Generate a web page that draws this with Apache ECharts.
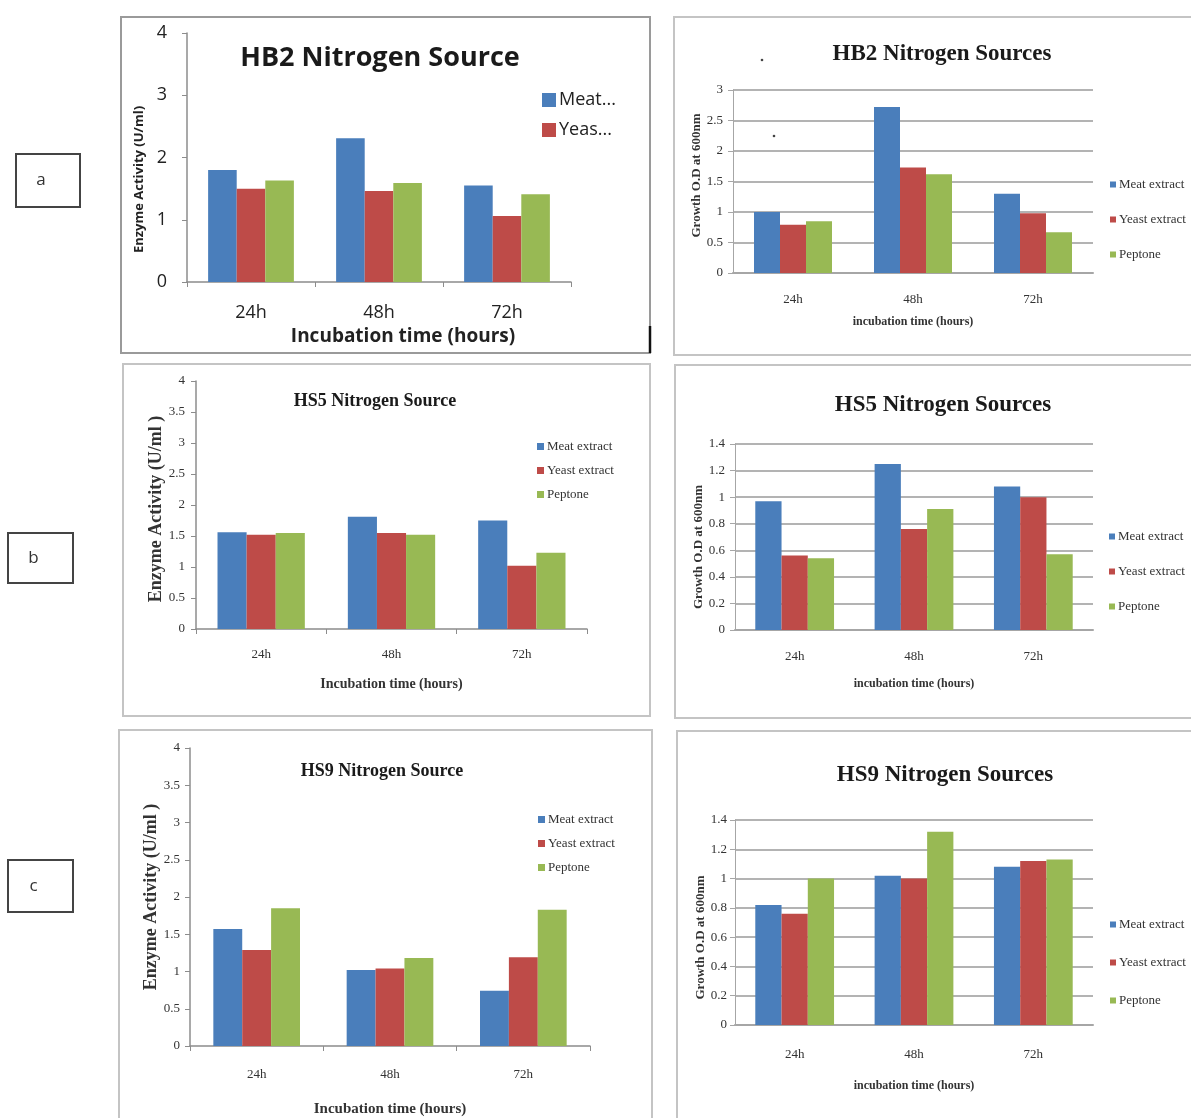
<!DOCTYPE html>
<html>
<head>
<meta charset="utf-8">
<script src="https://cdn.jsdelivr.net/npm/echarts@6/dist/echarts.min.js"></script>
<style>
  html, body { margin: 0; padding: 0; background: #fff; }
  #chart { width: 1191px; height: 1118px; }
</style>
</head>
<body>
<div id="chart"></div>
<script>
// categories and series names
const categories = ['24h', '48h', '72h'];
const sources = ['Meat extract', 'Yeast extract', 'Peptone'];

// HB2 (row a)
const hb2EnzymeMeat = [1.80, 2.31, 1.55];
const hb2EnzymeYeast = [1.50, 1.46, 1.06];
const hb2EnzymePeptone = [1.63, 1.59, 1.41];
const hb2GrowthMeat = [1.00, 2.72, 1.30];
const hb2GrowthYeast = [0.79, 1.73, 0.98];
const hb2GrowthPeptone = [0.85, 1.62, 0.67];

// HS5 (row b)
const hs5EnzymeMeat = [1.56, 1.81, 1.75];
const hs5EnzymeYeast = [1.52, 1.55, 1.02];
const hs5EnzymePeptone = [1.55, 1.52, 1.23];
const hs5GrowthMeat = [0.97, 1.25, 1.08];
const hs5GrowthYeast = [0.56, 0.76, 1.00];
const hs5GrowthPeptone = [0.54, 0.91, 0.57];

// HS9 (row c)
const hs9EnzymeMeat = [1.57, 1.02, 0.74];
const hs9EnzymeYeast = [1.29, 1.04, 1.19];
const hs9EnzymePeptone = [1.85, 1.18, 1.83];
const hs9GrowthMeat = [0.82, 1.02, 1.08];
const hs9GrowthYeast = [0.76, 1.00, 1.12];
const hs9GrowthPeptone = [1.00, 1.32, 1.13];

const COLORS = ['#4a7ebb', '#be4b48', '#98b954'];
const SANS = '"Open Sans", "Noto Sans", sans-serif';
const SERIF = '"Liberation Serif", "DejaVu Serif", serif';

const PANELS = [
    {
        title: 'HB2 Nitrogen Source', data: [hb2EnzymeMeat, hb2EnzymeYeast, hb2EnzymePeptone],
        grid: {left: 187, top: 33, width: 384, height: 249}, max: 4, interval: 1,
        font: SANS, titleSize: 27, titleX: 375, titleY: 40, left: true,
        yName: 'Enzyme Activity (U/ml)', yNameSize: 13, yNameGap: 41, yNameShift: 22,
        xName: 'Incubation time (hours)', xNameSize: 19, xNameGap: 45, xNameShift: 24,
        labelSize: 18, xMargin: 22, yMargin: 20, gap: '33%',
        legend: {left: 542, top: 91, size: 14, gap: 12, font: 18, names: sources.slice(0, 2), short: true},
    },
    {
        title: 'HB2 Nitrogen Sources', data: [hb2GrowthMeat, hb2GrowthYeast, hb2GrowthPeptone],
        grid: {left: 733, top: 90, width: 360, height: 183}, max: 3, interval: 0.5,
        font: SERIF, titleSize: 23, titleX: 937, titleY: 38, left: false,
        yName: 'Growth O.D at 600nm', yNameSize: 13, yNameGap: 28, yNameShift: -6,
        xName: 'incubation time (hours)', xNameSize: 12, xNameGap: 43, xNameShift: 0,
        labelSize: 13, xMargin: 20, yMargin: 10, gap: '35%',
        legend: {left: 1110, top: 178, size: 6, gap: 22, font: 13, names: sources},
    },
    {
        title: 'HS5 Nitrogen Source', data: [hs5EnzymeMeat, hs5EnzymeYeast, hs5EnzymePeptone],
        grid: {left: 196, top: 381, width: 391, height: 248}, max: 4, interval: 0.5,
        font: SERIF, titleSize: 18, titleX: 370, titleY: 387, left: true,
        yName: 'Enzyme Activity (U/ml )', yNameSize: 18, yNameGap: 28, yNameShift: 4,
        xName: 'Incubation time (hours)', xNameSize: 14, xNameGap: 48, xNameShift: 0,
        labelSize: 13, xMargin: 19, yMargin: 11, gap: '33%',
        legend: {left: 537, top: 440, size: 7, gap: 11, font: 13, names: sources},
    },
    {
        title: 'HS5 Nitrogen Sources', data: [hs5GrowthMeat, hs5GrowthYeast, hs5GrowthPeptone],
        grid: {left: 735, top: 444, width: 358, height: 186}, max: 1.4, interval: 0.2,
        font: SERIF, titleSize: 23, titleX: 938, titleY: 389, left: false,
        yName: 'Growth O.D at 600nm', yNameSize: 13, yNameGap: 29, yNameShift: 10,
        xName: 'incubation time (hours)', xNameSize: 12, xNameGap: 48, xNameShift: 0,
        labelSize: 13, xMargin: 20, yMargin: 10, gap: '34%',
        legend: {left: 1109, top: 530, size: 6, gap: 22, font: 13, names: sources},
    },
    {
        title: 'HS9 Nitrogen Source', data: [hs9EnzymeMeat, hs9EnzymeYeast, hs9EnzymePeptone],
        grid: {left: 190, top: 748, width: 400, height: 299}, max: 4, interval: 0.5,
        font: SERIF, titleSize: 18, titleX: 377, titleY: 757, left: true,
        yName: 'Enzyme Activity (U/ml )', yNameSize: 18, yNameGap: 25, yNameShift: 0,
        xName: 'Incubation time (hours)', xNameSize: 15, xNameGap: 56, xNameShift: 0,
        labelSize: 13, xMargin: 22, yMargin: 10, gap: '35%',
        legend: {left: 538, top: 813, size: 7, gap: 11, font: 13, names: sources},
    },
    {
        title: 'HS9 Nitrogen Sources', data: [hs9GrowthMeat, hs9GrowthYeast, hs9GrowthPeptone],
        grid: {left: 735, top: 820, width: 358, height: 205}, max: 1.4, interval: 0.2,
        font: SERIF, titleSize: 23, titleX: 940, titleY: 759, left: false,
        yName: 'Growth O.D at 600nm', yNameSize: 13, yNameGap: 26, yNameShift: 15,
        xName: 'incubation time (hours)', xNameSize: 12, xNameGap: 55, xNameShift: 0,
        labelSize: 13, xMargin: 23, yMargin: 8, gap: '34%',
        legend: {left: 1110, top: 918, size: 6, gap: 25, font: 13, names: sources},
    },
];

function shiftPad(d) {
    // moves a centred text along its own baseline by d pixels
    return d >= 0 ? [0, 0, 0, 2 * d] : [0, -2 * d, 0, 0];
}

const option = {
    animation: false,
    backgroundColor: '#fff',
    title: [], grid: [], xAxis: [], yAxis: [], legend: [], series: [],
};

PANELS.forEach((p, i) => {
    const axisColor = p.left ? '#8c8c8c' : '#a6a6a6';
    const textColor = p.left && p.font === SANS ? '#222' : '#333';

    option.title.push({
        text: p.title, left: p.titleX, top: p.titleY, textAlign: 'center',
        textStyle: {fontFamily: p.font, fontWeight: 'bold', fontSize: p.titleSize, color: '#1a1a1a'},
    });
    option.grid.push(Object.assign({containLabel: false}, p.grid));
    option.xAxis.push({
        type: 'category', gridIndex: i, data: categories,
        name: p.xName, nameLocation: 'middle', nameGap: p.xNameGap,
        nameTextStyle: {
            fontFamily: p.font, fontWeight: 'bold', fontSize: p.xNameSize, color: textColor,
            padding: shiftPad(p.xNameShift),
        },
        axisLine: {lineStyle: {color: axisColor, width: p.left ? 1.5 : 2}},
        axisTick: {show: p.left, length: 5, lineStyle: {color: axisColor}},
        axisLabel: {fontFamily: p.font, fontSize: p.labelSize, color: textColor, margin: p.xMargin},
    });
    option.yAxis.push({
        type: 'value', gridIndex: i, min: 0, max: p.max, interval: p.interval,
        name: p.yName, nameLocation: 'middle', nameRotate: 90, nameGap: p.yNameGap,
        nameTextStyle: {
            fontFamily: p.font, fontWeight: 'bold', fontSize: p.yNameSize, color: textColor,
            padding: shiftPad(-p.yNameShift),
        },
        axisLine: {show: true, lineStyle: {color: axisColor, width: p.left ? 1.5 : 1}},
        axisTick: {show: true, length: 5, lineStyle: {color: axisColor}},
        axisLabel: {fontFamily: p.font, fontSize: p.labelSize, color: textColor, margin: p.yMargin},
        splitLine: {show: !p.left, lineStyle: {color: '#b3b3b3', width: 2}},
    });
    option.legend.push({
        orient: 'vertical', left: p.legend.left, top: p.legend.top, padding: 0,
        itemWidth: p.legend.size, itemHeight: p.legend.size, itemGap: p.legend.gap,
        icon: 'rect', data: p.legend.names, selectedMode: false,
        formatter: p.legend.short ? (n) => n.slice(0, 4) + '...' : undefined,
        textStyle: {fontFamily: p.font, fontSize: p.legend.font, color: textColor, padding: [0, 0, 0, -2]},
    });
    p.data.forEach((values, k) => {
        option.series.push({
            name: sources[k], type: 'bar', xAxisIndex: i, yAxisIndex: i,
            data: values, barGap: '0%', barCategoryGap: p.gap,
            itemStyle: {color: COLORS[k]},
        });
    });
});

// panel frames and the a / b / c tags
const frame = (x, y, w, h, color) => ({
    type: 'rect', shape: {x, y, width: w, height: h},
    style: {fill: 'none', stroke: color, lineWidth: 2}, silent: true, z: -1,
});
const tag = (x, y, w, h, text) => ({
    type: 'group', children: [
        {type: 'rect', shape: {x, y, width: w, height: h}, style: {fill: '#fff', stroke: '#444', lineWidth: 2}},
        {type: 'text', style: {x: x + w / 2 - 7, y: y + h / 2, text, font: '17px "Open Sans", sans-serif',
            fill: '#333', textAlign: 'center', textVerticalAlign: 'middle'}},
    ],
});

option.graphic = [
    frame(121, 17, 529, 336, '#9a9a9a'),
    frame(674, 17, 530, 338, '#c4c4c4'),
    frame(123, 364, 527, 352, '#c4c4c4'),
    frame(675, 365, 530, 353, '#c4c4c4'),
    frame(119, 730, 533, 400, '#c4c4c4'),
    frame(677, 731, 530, 400, '#c4c4c4'),
    {type: 'line', shape: {x1: 650, y1: 326, x2: 650, y2: 353}, style: {stroke: '#111', lineWidth: 2.5}},
    {type: 'circle', shape: {cx: 762, cy: 60, r: 1.3}, style: {fill: '#444'}},
    {type: 'circle', shape: {cx: 774, cy: 136, r: 1.3}, style: {fill: '#444'}},
    tag(16, 154, 64, 53, 'a'),
    tag(8, 533, 65, 50, 'b'),
    tag(8, 860, 65, 52, 'c'),
];

const chart = echarts.init(document.getElementById('chart'));
chart.setOption(option);
</script>
</body>
</html>
